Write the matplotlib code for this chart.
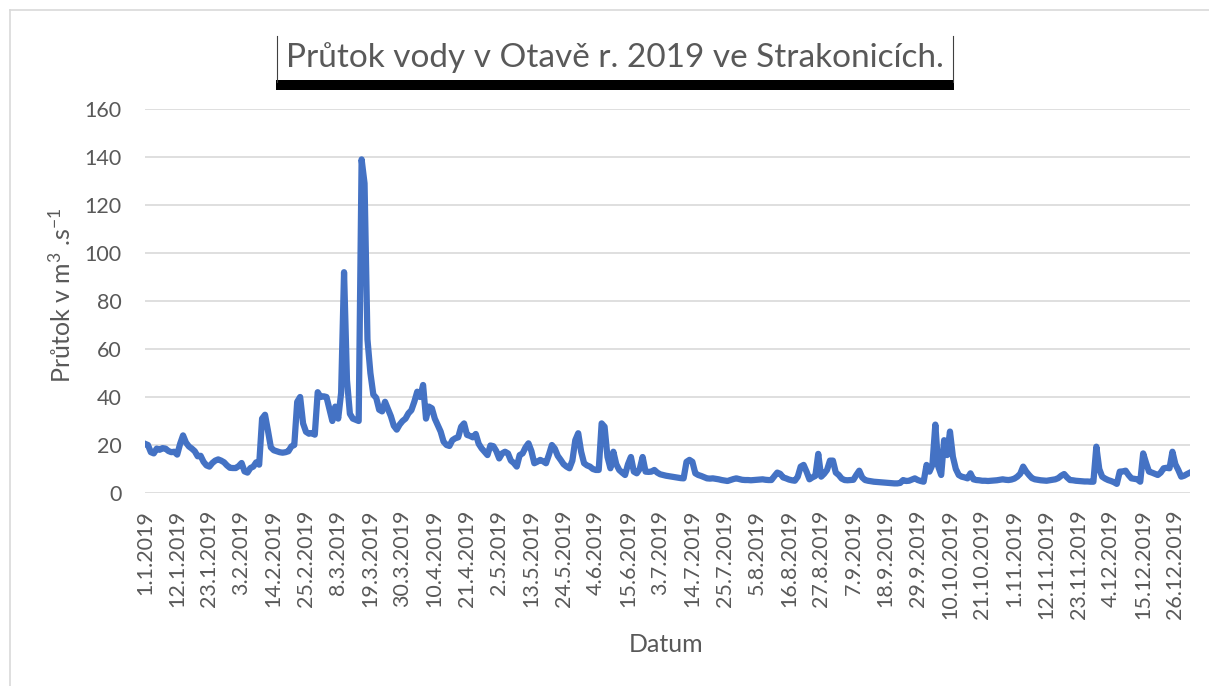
import matplotlib
matplotlib.use("Agg")
import matplotlib.pyplot as plt
from matplotlib.lines import Line2D
from matplotlib.patches import Rectangle

flow = [
    20.5, 20.0, 17.0, 16.5, 18.5, 18.0, 18.7, 18.5, 17.5, 17.0,
    17.2, 16.0, 20.5, 24.0, 21.0, 19.4, 18.5, 17.4, 15.3, 15.5,
    13.0, 11.5, 11.0, 12.5, 13.5, 14.0, 13.5, 12.8, 11.5, 10.5,
    10.4, 10.4, 11.2, 12.5, 9.0, 8.5, 10.4, 11.0, 12.8, 11.8,
    31.0, 32.6, 26.0, 19.0, 17.8, 17.4, 17.0, 16.8, 17.0, 17.4,
    19.4, 20.0, 38.0, 40.0, 29.0, 25.5, 24.7, 25.0, 24.3, 42.0,
    40.0, 40.3, 40.0, 35.0, 30.0, 36.0, 31.0, 41.7, 92.0, 47.0,
    33.0, 31.0, 30.5, 30.0, 139.0, 129.0, 64.0, 50.0, 41.0, 39.6,
    34.7, 34.0, 38.0, 35.0, 32.0, 28.0, 26.4, 28.5, 30.0, 31.0,
    33.2, 34.5, 38.0, 42.2, 40.0, 45.0, 31.0, 36.0, 35.3, 31.0,
    28.3, 25.6, 21.4, 20.0, 19.6, 22.0, 22.8, 23.2, 27.6, 29.0,
    24.2, 23.8, 23.2, 24.6, 20.5, 18.6, 17.2, 15.8, 19.8, 19.5,
    17.5, 14.4, 16.5, 17.2, 16.5, 13.5, 12.5, 11.0, 15.8, 16.5,
    19.0, 20.7, 17.5, 12.4, 13.0, 13.8, 13.2, 12.4, 16.0, 20.0,
    18.5, 15.5, 13.8, 12.0, 11.0, 10.3, 13.5, 22.0, 24.9, 17.2,
    12.4, 11.5, 11.0, 10.0, 9.6, 9.6, 29.0, 27.6, 15.0, 10.3,
    17.2, 12.0, 9.6, 8.5, 7.5, 12.0, 15.0, 8.9, 8.2, 10.0,
    15.0, 8.9, 8.8, 8.9, 9.6, 8.5, 7.8, 7.5, 7.2, 7.0,
    6.8, 6.6, 6.4, 6.2, 6.1, 13.0, 13.8, 13.0, 8.2, 7.5,
    7.1, 6.6, 6.1, 6.0, 6.1, 5.9, 5.7, 5.4, 5.2, 5.0,
    5.4, 5.8, 6.1, 5.8, 5.5, 5.4, 5.4, 5.3, 5.4, 5.5,
    5.6, 5.7, 5.5, 5.4, 5.4, 7.0, 8.5, 8.0, 6.5, 6.1,
    5.6, 5.3, 5.1, 6.8, 11.0, 11.7, 8.9, 5.7, 6.5, 7.1,
    16.3, 6.8, 8.0, 9.6, 13.5, 13.5, 8.5, 7.5, 6.0, 5.4,
    5.3, 5.4, 5.5, 7.5, 9.3, 6.5, 5.4, 5.1, 4.9, 4.7,
    4.6, 4.5, 4.4, 4.3, 4.2, 4.1, 4.0, 4.0, 4.2, 5.4,
    5.0, 5.1, 5.6, 6.1, 5.4, 5.0, 4.7, 11.7, 8.9, 11.7,
    28.5, 11.0, 7.5, 22.0, 15.8, 25.6, 15.1, 10.0, 7.5, 6.8,
    6.5, 6.1, 8.2, 5.7, 5.4, 5.3, 5.1, 5.1, 5.0, 5.1,
    5.2, 5.3, 5.5, 5.7, 5.5, 5.4, 5.6, 6.0, 6.8, 8.0,
    11.0, 9.0, 7.5, 6.2, 5.7, 5.5, 5.3, 5.2, 5.1, 5.3,
    5.5, 5.7, 6.2, 7.2, 7.9, 6.5, 5.4, 5.3, 5.1, 5.0,
    4.9, 4.8, 4.8, 4.7, 4.7, 19.3, 10.0, 6.8, 6.0, 5.4,
    5.0, 4.5, 3.8, 8.9, 9.0, 9.3, 7.5, 6.1, 5.9, 5.7,
    4.7, 16.5, 12.5, 8.9, 8.5, 8.0, 7.5, 8.5, 10.3, 10.5,
    10.3, 17.2, 12.0, 9.6, 6.8, 7.2, 7.9, 8.5,
]

# every 11th category is labelled
tick_labels = [
    "1.1.2019", "12.1.2019", "23.1.2019", "3.2.2019", "14.2.2019",
    "25.2.2019", "8.3.2019", "19.3.2019", "30.3.2019", "10.4.2019",
    "21.4.2019", "2.5.2019", "13.5.2019", "24.5.2019", "4.6.2019",
    "15.6.2019", "3.7.2019", "14.7.2019", "25.7.2019", "5.8.2019",
    "16.8.2019", "27.8.2019", "7.9.2019", "18.9.2019", "29.9.2019",
    "10.10.2019", "21.10.2019", "1.11.2019", "12.11.2019", "23.11.2019",
    "4.12.2019", "15.12.2019", "26.12.2019",
]
TICK_STEP = 11

W, H = 1209, 686
TXT = "#595959"
GRID = "#d9d9d9"

plt.rcParams["font.family"] = ["Lato", "DejaVu Sans"]
plt.rcParams["mathtext.default"] = "regular"

fig = plt.figure(figsize=(W / 100, H / 100), dpi=100)
ax = fig.add_axes([145 / W, 1 - 493 / H, (1190 - 145) / W, (493 - 109) / H])

x = list(range(len(flow)))
ax.plot(x, flow, color="#4472C4", lw=4.5, solid_joinstyle="round", zorder=3)

ax.set_xlim(0, len(flow) - 1)
ax.set_ylim(0, 160)
ax.set_yticks(range(0, 161, 20))
ax.set_xticks([i * TICK_STEP for i in range(len(tick_labels))])
ax.set_xticklabels(tick_labels, rotation=90, ha="center", va="top")
ax.grid(axis="y", color=GRID, lw=1.2)
ax.set_axisbelow(True)
for s in ax.spines.values():
    s.set_visible(False)
ax.tick_params(axis="y", length=0, pad=17, labelsize=15.5, labelcolor=TXT)
ax.tick_params(axis="x", length=0, pad=12, labelsize=15.5, labelcolor=TXT)

ax.set_ylabel("Průtok v m$^{3}$ .s$^{-1}$", fontsize=18, color=TXT)
ax.yaxis.set_label_coords(-0.067, 0.515)
ax.set_xlabel("Datum", fontsize=18, color=TXT)
ax.xaxis.set_label_coords(0.4986, -0.365)

# title with its framed box
fig.text(615 / W, 1 - 58 / H, "Průtok vody v Otavě r. 2019 ve Strakonicích.",
         ha="center", va="center", fontsize=24, color=TXT)
fig.add_artist(Line2D([277 / W, 277 / W], [1 - 36 / H, 1 - 82 / H], color="#404040", lw=0.8))
fig.add_artist(Line2D([953 / W, 953 / W], [1 - 36 / H, 1 - 82 / H], color="#404040", lw=0.8))
fig.add_artist(Rectangle((276 / W, 1 - 90 / H), (954 - 276) / W, 10 / H,
                         transform=fig.transFigure, color="black", lw=0))

# outer chart frame (cut off at right and bottom)
fig.add_artist(Line2D([10 / W, 1], [1 - 10 / H, 1 - 10 / H], color=GRID, lw=1.2))
fig.add_artist(Line2D([10 / W, 10 / W], [1 - 10 / H, 0], color=GRID, lw=1.2))

fig.savefig("out.png", dpi=100)
